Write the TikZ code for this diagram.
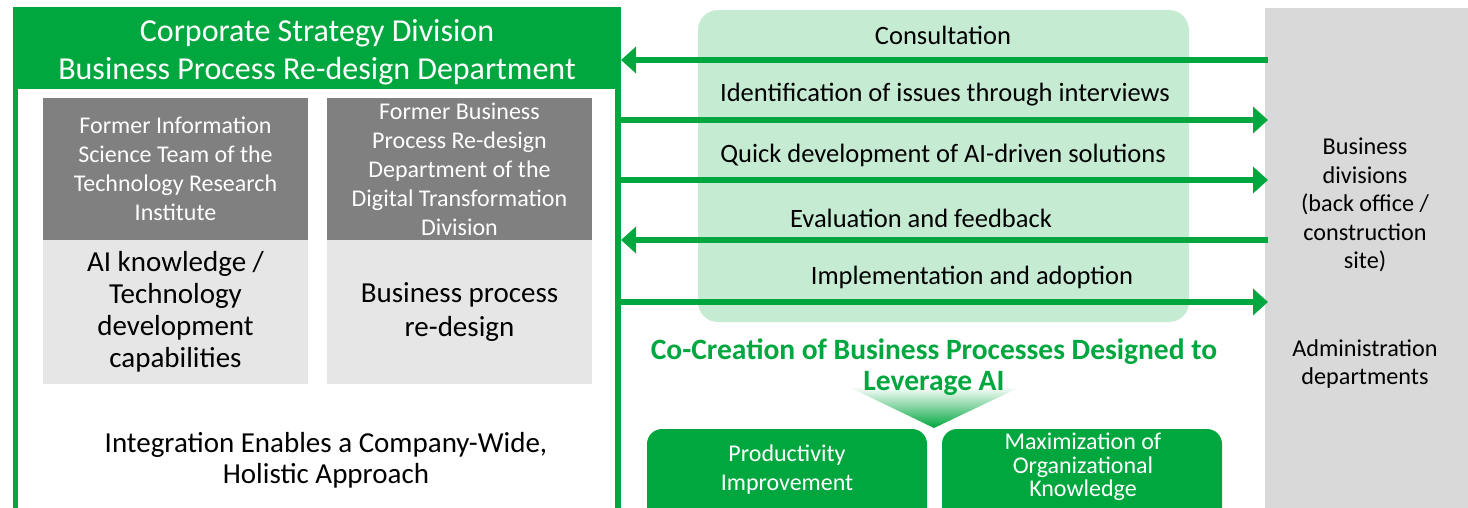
\documentclass[tikz,border=0pt]{standalone}
\usepackage{fontspec}
\setmainfont{Carlito}
\usetikzlibrary{arrows.meta}
\definecolor{bzgreen}{RGB}{0,167,62}
\definecolor{bzlight}{RGB}{198,235,211}
\definecolor{bzdark}{RGB}{128,128,128}
\definecolor{bzpale}{RGB}{230,230,230}
\definecolor{bzpanel}{RGB}{217,217,217}

\begin{document}
\begin{tikzpicture}[x=1pt,y=-1pt,line width=5.5pt,
  flow/.style={bzgreen,-{Triangle[length=15pt,width=26pt]}},
  lbl/.style={font=\fontsize{26.5}{30}\selectfont},
  hdr/.style={text=white,align=center,font=\fontsize{32}{38}\selectfont},
  team/.style={fill=bzdark,text=white,align=center,minimum width=265pt,minimum height=142pt,
    inner sep=0pt,font=\fontsize{24}{29}\selectfont},
  skill/.style={fill=bzpale,align=center,minimum width=265pt,minimum height=144pt,
    inner sep=0pt,font=\fontsize{29}{32}\selectfont},
  side/.style={align=center,font=\fontsize{24.2}{28.5}\selectfont},
  outtxt/.style={text=white,align=center,font=\fontsize{24}{29}\selectfont}]
  \useasboundingbox (0,0) rectangle (1468,507);

  % backgrounds
  \fill[bzlight,rounded corners=20pt] (698,10) rectangle (1189,322);
  \fill[bzpanel] (1265,8) rectangle (1468,520);

  % left frame
  \fill[bzgreen] (13,7) rectangle (621,89);
  \draw[bzgreen,line width=5pt] (15,89) -- (15,520);
  \draw[bzgreen,line width=6pt] (618,89) -- (618,520);
  \node[hdr] (hdr) at (317,52) {Corporate Strategy Division\\Business Process Re-design Department};

  \node[team] (infoTeam) at (175.5,169) {Former Information\\Science Team of the\\Technology Research\\Institute};
  \node[team] (bprTeam) at (459.5,169) {Former Business\\Process Re-design\\Department of the\\Digital Transformation\\Division};
  \node[skill] (aiSkill) at (175.5,312) {AI knowledge /\\Technology\\development\\capabilities};
  \node[skill,font=\fontsize{29}{34}\selectfont] (bprSkill) at (459.5,312) {Business process\\re-design};
  \node[side,font=\fontsize{29}{31}\selectfont] (integ) at (326,460) {Integration Enables a Company-Wide,\\Holistic Approach};

  % right panel
  \node[side] (bizDiv) at (1365,205) {Business\\divisions\\(back office /\\construction\\site)};
  \node[side] (adminDiv) at (1365,364) {Administration\\departments};

  % flow arrows
  \coordinate (strat1) at (621,60);
  \coordinate (strat2) at (618,120);
  \coordinate (strat3) at (618,180);
  \coordinate (strat4) at (621,240);
  \coordinate (strat5) at (618,302);
  \coordinate (biz1) at (1268,60);
  \coordinate (biz2) at (1268,120);
  \coordinate (biz3) at (1268,180);
  \coordinate (biz4) at (1268,240);
  \coordinate (biz5) at (1268,302);
  \draw[flow] (biz1) -- (strat1);
  \draw[flow] (strat2) -- (biz2);
  \draw[flow] (strat3) -- (biz3);
  \draw[flow] (biz4) -- (strat4);
  \draw[flow] (strat5) -- (biz5);
  \node[lbl] (consult) at (943,35) {Consultation};
  \node[lbl] (issues) at (945,95) {Identification of issues through interviews};
  \node[lbl] (quickDev) at (943,155) {Quick development of AI-driven solutions};
  \node[lbl] (evalFb) at (921,218) {Evaluation and feedback};
  \node[lbl] (implAdopt) at (972,277) {Implementation and adoption};

  % co-creation
  \shade[top color=bzgreen!4,bottom color=bzgreen] (851,388) -- (1018,388) -- (934,428) -- cycle;
  \node[text=bzgreen,align=center,font=\fontsize{29.5}{31}\bfseries] (cocreate) at (934,367)
    {Co-Creation of Business Processes Designed to\\Leverage AI};

  \fill[bzgreen,rounded corners=15pt] (647,429) rectangle (927,530);
  \fill[bzgreen,rounded corners=15pt] (942,429) rectangle (1222,530);
  \node[outtxt] (prod) at (787,470) {Productivity\\Improvement};
  \node[outtxt,font=\fontsize{24}{23.5}\selectfont] (orgKnow) at (1083,467) {Maximization of\\Organizational\\Knowledge};
\end{tikzpicture}
\end{document}
